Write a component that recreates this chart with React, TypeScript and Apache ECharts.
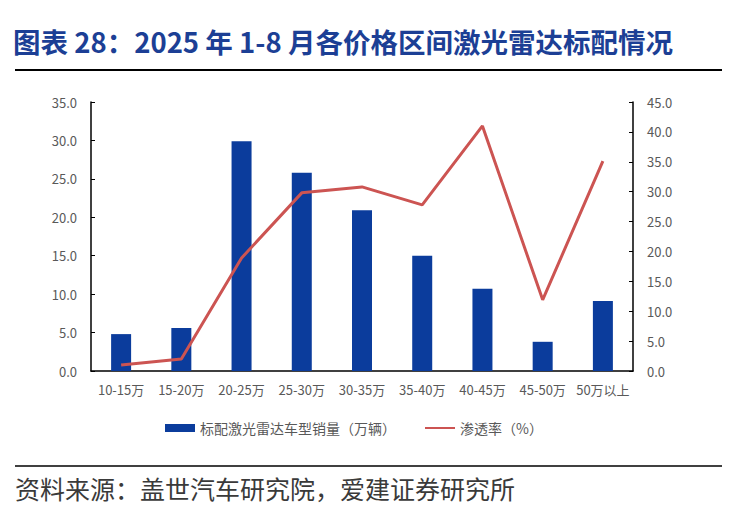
import React, { useEffect, useRef } from "react";
import * as echarts from "echarts";

const categories = ["10-15万", "15-20万", "20-25万", "25-30万", "30-35万", "35-40万", "40-45万", "45-50万", "50万以上"];
const salesValues = [4.8, 5.6, 29.9, 25.8, 20.9, 15.0, 10.7, 3.8, 9.1];
const penetrationValues = [1.0, 2.0, 18.9, 29.8, 30.8, 27.8, 41.0, 11.9, 35.1];
const leftTicks = { min: 0, max: 35, interval: 5 };
const rightTicks = { min: 0, max: 45, interval: 5 };
const title = "图表 28：2025 年 1-8 月各价格区间激光雷达标配情况";
const source = "资料来源：盖世汽车研究院，爱建证券研究所";
const barName = "标配激光雷达车型销量（万辆）";
const lineName = "渗透率（%）";

export default function App() {
  const ref = useRef<HTMLDivElement>(null);
  useEffect(() => {
    if (!ref.current) return;
    const chart = echarts.init(ref.current, null, { renderer: "svg" });
    const labelColor = "#595959";
    const font = "'Microsoft YaHei', 'Noto Sans CJK SC', sans-serif";
    chart.setOption({
      animation: false,
      backgroundColor: "#fff",
      textStyle: { fontFamily: font },
      graphic: [
        {
          type: "text",
          left: 13,
          top: 27,
          style: { text: title, font: "bold 27.5px 'Noto Sans CJK SC', sans-serif", fill: "#1c3f95" },
        },
        { type: "line", shape: { x1: 15, y1: 70, x2: 722, y2: 70 }, style: { stroke: "#000", lineWidth: 2 } },
        { type: "line", shape: { x1: 15, y1: 466, x2: 722, y2: 466 }, style: { stroke: "#000", lineWidth: 1.5 } },
        {
          type: "text",
          left: 15,
          top: 475,
          style: { text: source, font: "25px 'Noto Sans CJK SC', sans-serif", fill: "#3a3a3a" },
        },
      ],
      grid: { left: 91, right: 105, top: 102, bottom: 148, containLabel: false },
      legend: {
        top: 416,
        left: 160,
        itemGap: 28,
        itemWidth: 30,
        itemHeight: 8,
        textStyle: { color: labelColor, fontSize: 14, fontFamily: font },
        data: [
          { name: barName, icon: "rect" },
          { name: lineName, itemStyle: { opacity: 0 } },
        ],
      },
      xAxis: {
        type: "category",
        data: categories,
        axisLine: { lineStyle: { color: "#000", width: 1.5 } },
        axisTick: { inside: true, length: 4, lineStyle: { color: "#000" } },
        axisLabel: { color: labelColor, fontSize: 13, margin: 12, interval: 0 },
      },
      yAxis: [
        {
          type: "value",
          ...leftTicks,
          axisLine: { show: true, lineStyle: { color: "#000", width: 1.5 } },
          axisTick: { show: true, inside: true, length: 4, lineStyle: { color: "#000" } },
          axisLabel: { color: labelColor, fontSize: 13, margin: 14, formatter: (v: number) => v.toFixed(1) },
          splitLine: { show: false },
        },
        {
          type: "value",
          ...rightTicks,
          axisLine: { show: true, lineStyle: { color: "#000", width: 1.5 } },
          axisTick: { show: true, inside: true, length: 4, lineStyle: { color: "#000" } },
          axisLabel: { color: labelColor, fontSize: 13, margin: 14, formatter: (v: number) => v.toFixed(1) },
          splitLine: { show: false },
        },
      ],
      series: [
        {
          name: barName,
          type: "bar",
          data: salesValues,
          barWidth: 20,
          itemStyle: { color: "#0b3c9c" },
          yAxisIndex: 0,
        },
        {
          name: lineName,
          type: "line",
          data: penetrationValues,
          yAxisIndex: 1,
          symbol: "none",
          lineStyle: { color: "#cc5452", width: 3 },
          itemStyle: { color: "#cc5452" },
        },
      ],
    });
    return () => chart.dispose();
  }, []);
  return <div ref={ref} style={{ width: 738, height: 519, position: "absolute", left: 0, top: 0 }} />;
}
